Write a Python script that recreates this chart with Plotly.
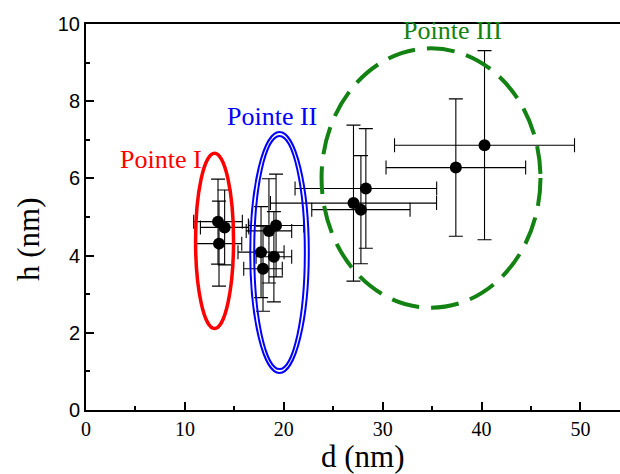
import plotly.graph_objects as go

# ---- data ----
d_nm = [13.35, 14.02, 13.45, 17.70, 17.90, 18.50, 19.22, 19.00, 27.05, 27.80, 28.30, 37.40, 40.30]
h_nm = [4.88, 4.73, 4.31, 4.09, 3.66, 4.64, 4.78, 3.97, 5.36, 5.19, 5.74, 6.28, 6.86]
d_err = [2.46, 2.45, 2.30, 2.33, 1.95, 2.30, 2.80, 1.80, 8.40, 4.97, 7.16, 7.06, 9.10]
h_err = [1.10, 0.97, 1.10, 1.18, 1.10, 1.35, 1.33, 1.17, 2.02, 1.40, 1.55, 1.78, 2.45]

x_ticks = [0, 10, 20, 30, 40, 50]
y_ticks = [0, 2, 4, 6, 8, 10]

# group ellipses: centre d, centre h, semi-axis d, semi-axis h
group_labels = ["Pointe I", "Pointe II", "Pointe III"]
group_cx = [13.0, 19.57, 34.89]
group_cy = [4.38, 4.08, 6.01]
group_rx = [1.92, 2.96, 11.07]
group_ry = [2.27, 3.12, 3.36]
inner_rx_II = 2.56
inner_ry_II = 3.02

RED = "#ff0000"
BLUE = "#0000ff"
GREEN = "#128212"

fig = go.Figure()
fig.add_trace(go.Scatter(
    x=d_nm, y=h_nm, mode="markers",
    marker=dict(color="black", size=12),
    error_x=dict(type="data", array=d_err, color="black", thickness=1.1, width=7),
    error_y=dict(type="data", array=h_err, color="black", thickness=1.1, width=7),
    showlegend=False, hoverinfo="skip",
))

def ell(cx, cy, rx, ry, color, width, dash="solid"):
    return dict(type="circle", xref="x", yref="y",
                x0=cx - rx, x1=cx + rx, y0=cy - ry, y1=cy + ry,
                line=dict(color=color, width=width, dash=dash))

shapes = [
    ell(group_cx[0], group_cy[0], group_rx[0], group_ry[0], RED, 3.5),
    ell(group_cx[1], group_cy[1], group_rx[1], group_ry[1], BLUE, 2),
    ell(group_cx[1], group_cy[1], inner_rx_II, inner_ry_II, BLUE, 2),
    ell(group_cx[2], group_cy[2], group_rx[2], group_ry[2], GREEN, 4, "28px,12px"),
]

serif = "'Liberation Serif', 'Times New Roman', 'DejaVu Serif', serif"
sans = "'Liberation Sans', Arial, sans-serif"

W, H = 620, 474
L, R, T, B = 86, 0, 24, 64
pw, ph = W - L - R, H - T - B

annotations = []
for lab, lx, ly, col in [(group_labels[0], 7.58, 6.49, RED),
                         (group_labels[1], 18.85, 7.60, BLUE),
                         (group_labels[2], 37.06, 9.83, GREEN)]:
    annotations.append(dict(text=lab, x=lx, y=ly, xref="x", yref="y", showarrow=False,
                            xanchor="center", yanchor="middle",
                            font=dict(family=serif, size=26, color=col)))
# axis titles placed at window pixel positions
for txt, px, py, ang in [("d (nm)", 363, 456, 0), ("h (nm)", 28, 239, -90)]:
    annotations.append(dict(
        text=txt, showarrow=False, xref="paper", yref="paper",
        xanchor="center", yanchor="middle",
        x=(px - L) / pw, y=(H - B - py) / ph, textangle=ang,
        font=dict(family=serif, size=31, color="black")))

fig.update_layout(
    width=W, height=H,
    margin=dict(l=L, r=R, t=T, b=B, pad=0, autoexpand=False),
    paper_bgcolor="white", plot_bgcolor="white",
    shapes=shapes, annotations=annotations,
    xaxis=dict(range=[0, 54.0], tickvals=x_ticks, ticks="inside", ticklen=8, tickwidth=1.5,
               tickcolor="black", showline=True, linecolor="black", linewidth=2,
               mirror=True, showgrid=False, zeroline=False, automargin=False,
               tickfont=dict(family=serif, size=20, color="black"),
               minor=dict(dtick=5, tick0=0, ticks="inside", ticklen=4, tickwidth=1.5,
                          tickcolor="black", showgrid=False)),
    yaxis=dict(range=[0, 10], tickvals=y_ticks, ticks="inside", ticklen=8, tickwidth=1.5,
               tickcolor="black", showline=True, linecolor="black", linewidth=2,
               mirror=False, showgrid=False, zeroline=False, automargin=False,
               tickfont=dict(family=sans, size=20, color="black"),
               minor=dict(dtick=1, tick0=0, ticks="inside", ticklen=4, tickwidth=1.5,
                          tickcolor="black", showgrid=False)),
)

# remove the browser's default body margin so the figure fills the window
fig.write_html("out.html", config={"displayModeBar": False},
               post_script="document.body.style.margin='0';document.body.style.overflow='hidden';")
